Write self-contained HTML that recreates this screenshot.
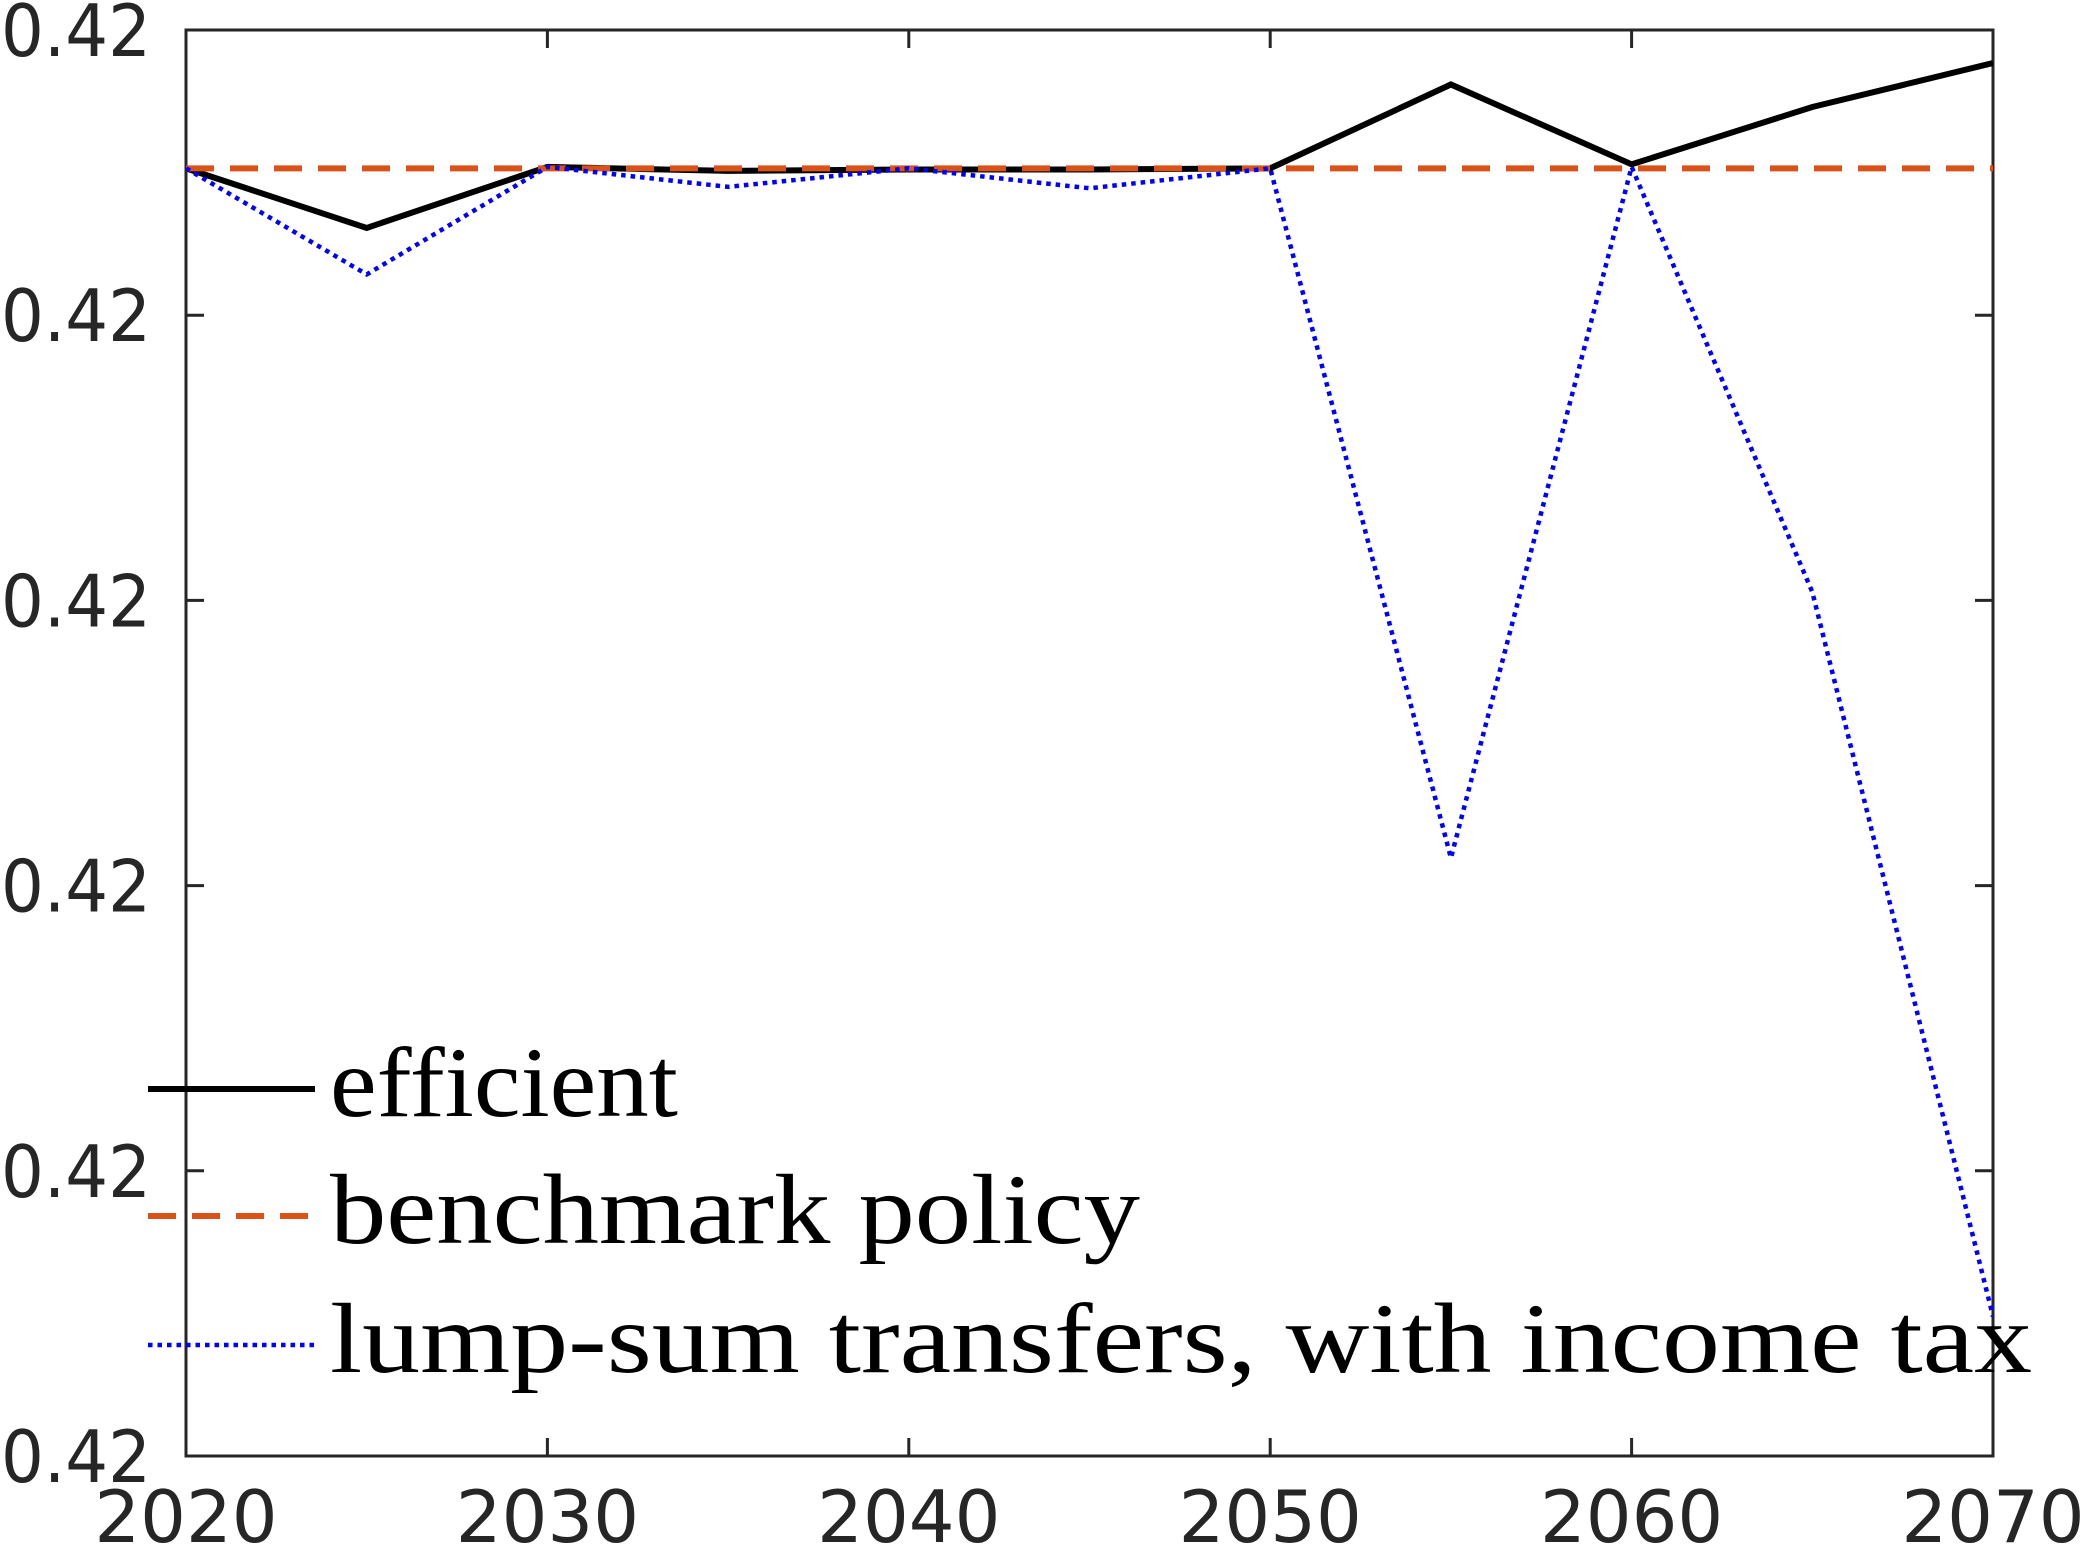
<!DOCTYPE html>
<html><head><meta charset="utf-8"><style>
html,body{margin:0;padding:0;background:#fff;}
svg{display:block;}
</style></head><body>
<svg id="chart" width="2082" height="1554" viewBox="0 0 2082 1554" xmlns="http://www.w3.org/2000/svg"></svg>
<script>
const years = [2020,2025,2030,2035,2040,2045,2050,2055,2060,2065,2070];
const efficient = [4.515,4.306,4.520,4.506,4.511,4.511,4.515,4.809,4.529,4.730,4.884];
const benchmark = [4.515,4.515,4.515,4.515,4.515,4.515,4.515,4.515,4.515,4.515,4.515];
const lumpSum = [4.515,4.143,4.520,4.450,4.515,4.445,4.515,2.097,4.520,3.029,0.489];
const xTicks = [2020,2030,2040,2050,2060,2070];
const yTicks = [0,1,2,3,4,5];
const yTickLabels = ["0.42","0.42","0.42","0.42","0.42","0.42"];
const legendLabels = ["efficient","benchmark policy","lump-sum transfers, with income tax"];
const legendWidths = [348,810,1702];

const L=186,R=1993,T=30,B=1456;
const xs=v=>L+(v-2020)/50*(R-L);
const ys=v=>B-(v-0)/5*(B-T);
const svg=document.getElementById('chart');
const NS='http://www.w3.org/2000/svg';
function mk(tag,attrs,parent){const e=document.createElementNS(NS,tag);for(const k in attrs)e.setAttribute(k,attrs[k]);(parent||svg).appendChild(e);return e;}

const axes=mk('g',{});


const frame=mk('rect',{x:L,y:T,width:R-L,height:B-T,fill:'none',stroke:'#262626','stroke-width':3},axes);



xTicks.forEach(t=>{
  const x=xs(t);
  const tk=mk('path',{d:`M${x},${B}v-18M${x},${T}v18`,stroke:'#262626','stroke-width':3},axes);
  
  
  const lb=mk('text',{x:x,y:B+86,'text-anchor':'middle','font-family':'DejaVu Sans, sans-serif','font-size':72,fill:'#262626'},axes);
  lb.textContent=t;
  
  
});
yTicks.forEach((t,i)=>{
  const y=ys(t);
  const tk=mk('path',{d:`M${L},${y}h18M${R},${y}h-18`,stroke:'#262626','stroke-width':3},axes);
  
  
  const lb=mk('text',{x:151,y:y+26,'text-anchor':'end','font-family':'DejaVu Sans, sans-serif','font-size':72,fill:'#262626',textLength:150,lengthAdjust:'spacingAndGlyphs'},axes);
  lb.textContent=yTickLabels[i];
  
  
});

const styles=[
  {data:efficient,stroke:'#000',w:6,dash:'',name:'efficient-line'},
  {data:benchmark,stroke:'#D95319',w:6,dash:'28 16',name:'benchmark-line'},
  {data:lumpSum,stroke:'#0000FF',w:4.5,dash:'4.5 5',name:'lump-sum-line'}
];
const clip=mk('clipPath',{id:'pc'});
mk('rect',{x:L,y:T,width:R-L,height:B-T},clip);
styles.forEach(s=>{
  const d=s.data.map((v,i)=>(i?'L':'M')+xs(years[i])+','+ys(v)).join('');
  const p=mk('path',{d:d,fill:'none',stroke:s.stroke,'stroke-width':s.w,'stroke-dasharray':s.dash,'clip-path':'url(#pc)'});
  
  
});

const legend=mk('g',{});


const rowY=[1089,1216,1345];
styles.forEach((s,i)=>{
  const ln=mk('line',{x1:148,x2:315,y1:rowY[i],y2:rowY[i],stroke:s.stroke,'stroke-width':s.w,'stroke-dasharray':s.dash},legend);
  
  
  const tx=mk('text',{x:330,y:rowY[i]+27,'font-family':'Liberation Serif, serif','font-size':100,fill:'#000',textLength:legendWidths[i],lengthAdjust:'spacingAndGlyphs'},legend);
  tx.textContent=legendLabels[i];
  
  
});
</script>
</body></html>
